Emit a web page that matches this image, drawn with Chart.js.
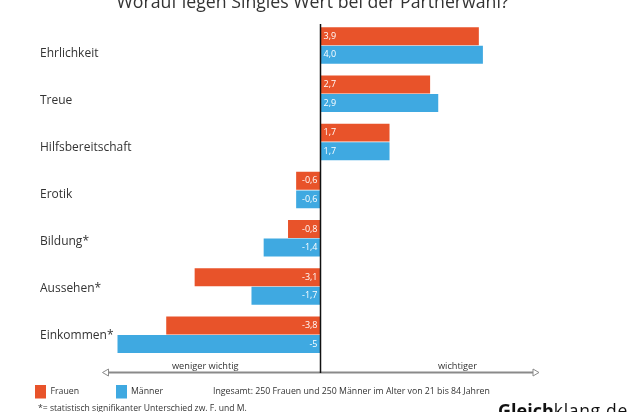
<!DOCTYPE html>
<html><head><meta charset="utf-8">
<style>html,body{margin:0;padding:0;background:#fff;overflow:hidden}#w{position:relative;width:630px;height:412px}</style>
<script src="https://cdn.jsdelivr.net/npm/chart.js@4"></script>
</head><body><div id="w"><canvas id="c" width="630" height="412"></canvas></div>
<script>
const titleText = "Worauf legen Singles Wert bei der Partnerwahl?";
const categories = ["Ehrlichkeit","Treue","Hilfsbereitschaft","Erotik","Bildung*","Aussehen*","Einkommen*"];
const seriesNames = ["Frauen","Männer"];
const frauen = [3.9,2.7,1.7,-0.6,-0.8,-3.1,-3.8];
const maenner = [4.0,2.9,1.7,-0.6,-1.4,-1.7,-5];
const frauenLabels = ["3,9","2,7","1,7","-0,6","-0,8","-3,1","-3,8"];
const maennerLabels = ["4,0","2,9","1,7","-0,6","-1,4","-1,7","-5"];
const RED = "#E8532A", BLUE = "#3FA9E1", INK = "#333333";
const FONT = '"Open Sans"';

const overlay = {
  id:"overlay",
  afterDatasetsDraw(chart){
    const c = chart.ctx, x0 = chart.scales.x.getPixelForValue(0);
    c.save();
    c.font = "9px "+FONT; c.fillStyle = "#fff"; c.textBaseline = "middle";
    [frauenLabels,maennerLabels].forEach((labels,d)=>{
      chart.getDatasetMeta(d).data.forEach((b,i)=>{
        const neg = chart.data.datasets[d].data[i] < 0;
        c.textAlign = neg ? "right" : "left";
        c.fillText(labels[i], x0 + (neg ? -3 : 3), b.y);
      });
    });
    const ay = 372.5;
    c.strokeStyle = "#8a8a8a"; c.lineWidth = 2;
    c.beginPath(); c.moveTo(108,ay); c.lineTo(534,ay); c.stroke();
    c.lineWidth = 1; c.fillStyle = "#fff";
    c.beginPath(); c.moveTo(102.5,ay); c.lineTo(108.5,ay-3.5); c.lineTo(108.5,ay+3.5); c.closePath(); c.fill(); c.stroke();
    c.beginPath(); c.moveTo(539,ay); c.lineTo(533,ay-3.5); c.lineTo(533,ay+3.5); c.closePath(); c.fill(); c.stroke();
    c.strokeStyle = "#111"; c.lineWidth = 1.5;
    c.beginPath(); c.moveTo(x0,24); c.lineTo(x0,373); c.stroke();
    c.fillStyle = INK; c.textAlign = "left"; c.textBaseline = "middle";
    c.font = "9.2px "+FONT;
    c.fillText("weniger wichtig",172,366);
    c.fillText("wichtiger",438,366);
    c.fillStyle = RED; c.fillRect(35,385,11,13.5);
    c.fillStyle = BLUE; c.fillRect(116,385,11,13.5);
    c.fillStyle = INK;
    c.font = "8.75px "+FONT;
    c.fillText(seriesNames[0],50.5,391.5);
    c.fillText(seriesNames[1],131,391.5);
    c.fillText("Ingesamt: 250 Frauen und 250 Männer im Alter von 21 bis 84 Jahren",213,391.5);
    c.font = "8.6px "+FONT;
    c.fillText("*= statistisch signifikanter Unterschied zw. F. und M.",38,409);
    c.font = "17.7px "+FONT; c.textAlign = "center"; c.textBaseline = "alphabetic";
    c.fillText(titleText,312.5,8);
    c.textAlign = "left"; c.fillStyle = "#111";
    c.font = "bold 18px "+FONT; c.fillText("Gleich",498,417);
    const w = c.measureText("Gleich").width;
    c.font = "17.5px "+FONT; c.letterSpacing = "0.7px"; c.fillText("klang.de",498+w,417);
    c.restore();
  }
};

new Chart(document.getElementById("c"),{
  type:"bar",
  data:{labels:categories,datasets:[
    {label:seriesNames[0],data:frauen,backgroundColor:RED,yAxisID:"y",xAxisID:"x"},
    {label:seriesNames[1],data:maenner,backgroundColor:BLUE,yAxisID:"y",xAxisID:"x"}
  ]},
  options:{
    indexAxis:"y",responsive:false,animation:false,
    layout:{padding:{left:40,right:106.5,top:21.4,bottom:53.2}},
    datasets:{bar:{categoryPercentage:0.768,barPercentage:0.97}},
    plugins:{legend:{display:false},tooltip:{enabled:false},title:{display:false}},
    scales:{
      x:{type:"linear",min:-6.909,max:5,display:false,grid:{display:false}},
      y:{type:"category",display:false,grid:{display:false}},
      names:{type:"linear",position:"left",reverse:true,offset:false,min:-0.693,max:6.486,bounds:"data",
        grid:{display:false,drawTicks:false},border:{display:false},
        afterBuildTicks(a){a.ticks=categories.map((_,i)=>({value:i}));},
        ticks:{mirror:true,padding:0,autoSkip:false,color:INK,font:{family:"Open Sans",size:12},
          callback:v=>categories[v]}
      }
    }
  },
  plugins:[overlay]
});
</script></body></html>
